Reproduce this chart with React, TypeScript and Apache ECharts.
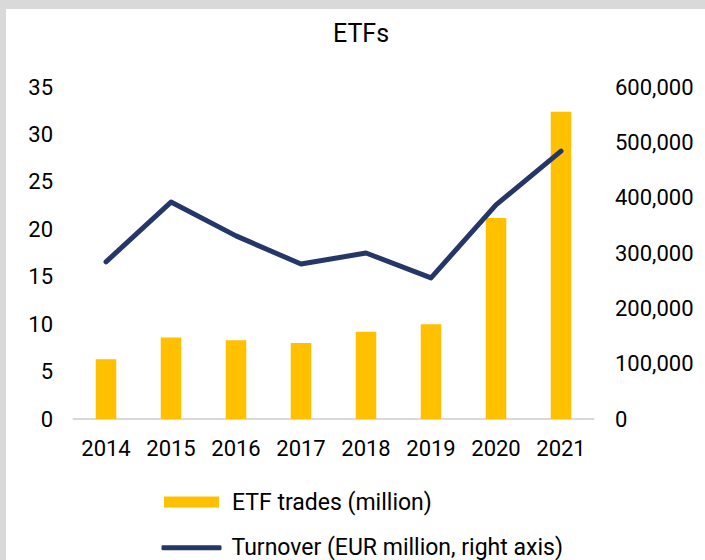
import React, { useEffect, useRef } from "react";
import * as echarts from "echarts";

const years = ["2014", "2015", "2016", "2017", "2018", "2019", "2020", "2021"];
const etfTrades = [6.3, 8.6, 8.3, 8.0, 9.2, 10.0, 21.2, 32.4];
const turnover = [284000, 392000, 331000, 280000, 300000, 255000, 387000, 484000];
const tradesName = "ETF trades (million)";
const turnoverName = "Turnover (EUR million, right axis)";
const titleText = "ETFs";

const FONT = "Roboto";
const NAVY = "#253669";
const GOLD = "#ffc000";

export default function App() {
  const ref = useRef<HTMLDivElement>(null);
  useEffect(() => {
    if (!ref.current) return;
    const chart = echarts.init(ref.current, null, { renderer: "svg" });
    const legendText = {
      fontFamily: FONT,
      fontSize: 23,
      lineHeight: 26,
      color: "#000",
    };
    chart.setOption({
      animation: false,
      backgroundColor: "#d9d9d9",
      textStyle: { fontFamily: FONT },
      graphic: [
        {
          type: "rect",
          z: -10,
          silent: true,
          shape: { x: 6, y: 9, width: 699, height: 551 },
          style: { fill: "#ffffff" },
        },
      ],
      title: {
        text: titleText,
        left: 333,
        top: 21,
        padding: 0,
        textStyle: { fontFamily: FONT, fontSize: 25, fontWeight: "normal", color: "#000" },
      },
      legend: [
        {
          orient: "horizontal",
          left: 164,
          top: 489,
          padding: 0,
          itemWidth: 55,
          itemHeight: 11,
          textStyle: { ...legendText, padding: [0, 0, 0, 8] },
          data: [{ name: tradesName, icon: "rect", itemStyle: { color: GOLD } }],
        },
        {
          orient: "horizontal",
          left: 161.5,
          top: 534.7,
          padding: 0,
          itemWidth: 60,
          itemHeight: 5,
          textStyle: { ...legendText, padding: [0, 0, 0, 5] },
          data: [{ name: turnoverName, icon: "roundRect", itemStyle: { color: NAVY } }],
        },
      ],
      grid: { left: 73.5, right: 111.5, top: 87, bottom: 141, containLabel: false },
      xAxis: {
        type: "category",
        data: years,
        axisLine: { show: true, lineStyle: { color: "#d9d9d9", width: 2 } },
        axisTick: { show: false },
        axisLabel: { fontFamily: FONT, fontSize: 22, color: "#000", margin: 18 },
      },
      yAxis: [
        {
          type: "value",
          min: 0,
          max: 35,
          interval: 5,
          splitLine: { show: false },
          axisLine: { show: false },
          axisTick: { show: false },
          axisLabel: { fontFamily: FONT, fontSize: 22, color: "#000", margin: 20.5 },
        },
        {
          type: "value",
          min: 0,
          max: 600000,
          interval: 100000,
          position: "right",
          splitLine: { show: false },
          axisLine: { show: false },
          axisTick: { show: false },
          axisLabel: {
            fontFamily: FONT,
            fontSize: 22,
            color: "#000",
            margin: 21.5,
            formatter: (v: number) => String(v).replace(/\B(?=(\d{3})+(?!\d))/g, ","),
          },
        },
      ],
      series: [
        {
          name: tradesName,
          type: "bar",
          yAxisIndex: 0,
          data: etfTrades,
          barWidth: 20.5,
          itemStyle: { color: GOLD },
          z: 2,
        },
        {
          name: turnoverName,
          type: "line",
          yAxisIndex: 1,
          data: turnover,
          symbol: "none",
          showSymbol: false,
          lineStyle: { color: NAVY, width: 5, cap: "round", join: "round" },
          itemStyle: { color: NAVY },
          z: 3,
        },
      ],
    });
    return () => chart.dispose();
  }, []);
  return (
    <div
      ref={ref}
      style={{ position: "fixed", left: 0, top: 0, width: 705, height: 560 }}
    />
  );
}
